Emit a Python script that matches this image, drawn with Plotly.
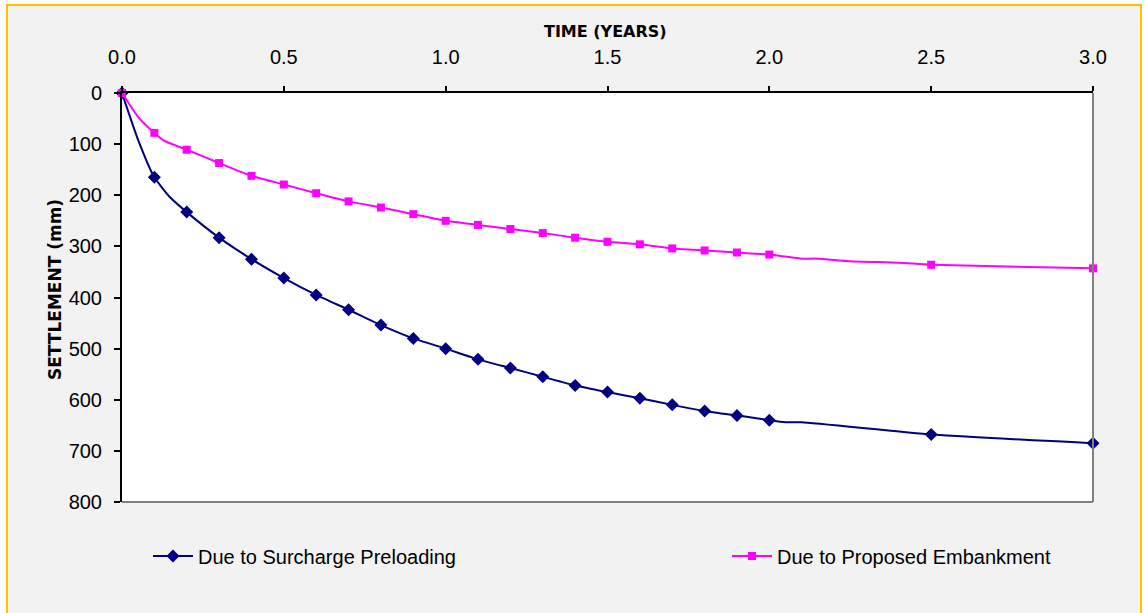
import plotly.graph_objects as go

# Time (years) at which settlement was plotted with a marker
marked_time = [0.0, 0.1, 0.2, 0.3, 0.4, 0.5, 0.6, 0.7, 0.8, 0.9, 1.0,
               1.1, 1.2, 1.3, 1.4, 1.5, 1.6, 1.7, 1.8, 1.9, 2.0, 2.5, 3.0]

# Settlement (mm) due to surcharge preloading
surcharge_mm = [0, 165, 233, 283, 325, 362, 395, 424, 454, 480, 500,
                521, 538, 555, 572, 585, 597, 610, 622, 631, 640, 668, 685]
# intermediate readings on the curve (no marker)
surcharge_extra_time = [0.05, 0.15, 1.95, 2.05, 2.1]
surcharge_extra_mm = [92, 205, 635, 644, 644]

# Settlement (mm) due to the proposed embankment
embankment_mm = [0, 78, 111, 137, 162, 179, 196, 212, 224, 237, 250,
                 258, 266, 274, 283, 291, 296, 304, 308, 312, 316, 336, 343]
embankment_extra_time = [0.05, 0.13, 2.05, 2.1, 2.15, 2.25, 2.4]
embankment_extra_mm = [47, 93, 320, 324, 324, 329, 332]

series_names = ["Due to Surcharge Preloading", "Due to Proposed Embankment"]

x_ticks = [0.0, 0.5, 1.0, 1.5, 2.0, 2.5, 3.0]
y_ticks = [0, 100, 200, 300, 400, 500, 600, 700, 800]

W, H = 1145, 613
L, R, T, B = 122, 1093, 93, 502   # plot area in pixels

NAVY, MAGENTA = "#000080", "#FF00FF"


def px_x(p):
    return (p - L) / (R - L)


def px_y(p):
    return (B - p) / (B - T)


def merge(times, vals, extra_t, extra_v, size):
    pts = [(t, v, size) for t, v in zip(times, vals)]
    pts += [(t, v, 0) for t, v in zip(extra_t, extra_v)]
    pts.sort(key=lambda p: p[0])
    return [p[0] for p in pts], [p[1] for p in pts], [p[2] for p in pts]


sx, sy, ss = merge(marked_time, surcharge_mm, surcharge_extra_time, surcharge_extra_mm, 10)
ex, ey, es = merge(marked_time, embankment_mm, embankment_extra_time, embankment_extra_mm, 8)

fig = go.Figure()
curves = [
    (sx, sy, ss, NAVY, "diamond", 10, "legend", series_names[0]),
    (ex, ey, es, MAGENTA, "square", 8, "legend2", series_names[1]),
]
for x, y, sizes, color, symbol, msize, leg, name in curves:
    fig.add_trace(go.Scatter(
        x=x, y=y, mode="lines+markers", name=name, showlegend=False,
        line=dict(color=color, width=2, shape="spline", smoothing=0.5),
        marker=dict(symbol=symbol, size=sizes, color=color, opacity=1,
                    line=dict(width=0)),
        cliponaxis=False,
    ))
for x, y, sizes, color, symbol, msize, leg, name in curves:
    # legend key for the series
    fig.add_trace(go.Scatter(
        x=[None], y=[None], mode="lines+markers", name=name, legend=leg,
        line=dict(color=color, width=2),
        marker=dict(symbol=symbol, size=msize, color=color, line=dict(width=0)),
    ))

tick_font = dict(family="Liberation Sans, Arial, sans-serif", size=20, color="#000000")
legend_font = dict(family="Liberation Sans, Arial, sans-serif", size=20, color="#000000")

shapes = [
    # chart area: light grey with a yellow frame
    dict(type="rect", xref="paper", yref="paper", layer="below",
         x0=px_x(7), x1=px_x(1141), y0=px_y(5), y1=px_y(640),
         fillcolor="#F2F2F2", line=dict(color="#FFC000", width=2)),
    # white plotting area
    dict(type="rect", xref="paper", yref="paper", layer="below",
         x0=0, x1=1, y0=0, y1=1, fillcolor="#FFFFFF", line=dict(width=0)),
    # grey right and bottom edges of the plotting area
    dict(type="line", xref="paper", yref="paper", x0=1, x1=1, y0=0, y1=1,
         line=dict(color="#808080", width=2)),
    dict(type="line", xref="paper", yref="paper", x0=0, x1=1, y0=0, y1=0,
         line=dict(color="#808080", width=2)),
]

annotations = [
    dict(text="<b>TIME (YEARS)</b>", xref="paper", yref="paper",
         x=px_x(605), y=px_y(32), xanchor="center", yanchor="middle", showarrow=False,
         font=dict(family="DejaVu Sans", size=16, color="#000000")),
    dict(text="<b>SETTLEMENT (mm)</b>", xref="paper", yref="paper", textangle=-90,
         x=px_x(55), y=px_y(290), xanchor="center", yanchor="middle", showarrow=False,
         font=dict(family="DejaVu Sans", size=17, color="#000000")),
]

fig.update_layout(
    width=W, height=H,
    margin=dict(l=L, r=W - R, t=T, b=H - B, pad=0),
    paper_bgcolor="#FFFFFF", plot_bgcolor="#FFFFFF",
    shapes=shapes, annotations=annotations,
    xaxis=dict(side="top", range=[0, 3], tickvals=x_ticks, tickformat=".1f",
               showgrid=False, zeroline=False, showline=True, linecolor="#000000",
               linewidth=2, ticks="outside", ticklen=5, tickwidth=1.5,
               tickcolor="#000000", tickfont=tick_font, ticklabelstandoff=14),
    yaxis=dict(range=[800, 0], tickvals=y_ticks, showgrid=False, zeroline=False,
               showline=True, linecolor="#000000", linewidth=2, ticks="outside",
               ticklen=6, tickwidth=1.5, tickcolor="#000000", tickfont=tick_font,
               ticklabelstandoff=8),
    legend=dict(x=px_x(148), y=px_y(556), xanchor="left", yanchor="middle",
                orientation="h", bgcolor="rgba(0,0,0,0)", font=legend_font,
                itemwidth=40),
    legend2=dict(x=px_x(727), y=px_y(556), xanchor="left", yanchor="middle",
                 orientation="h", bgcolor="rgba(0,0,0,0)", font=legend_font,
                 itemwidth=40),
    showlegend=True,
)

fig.write_html("out.html")
